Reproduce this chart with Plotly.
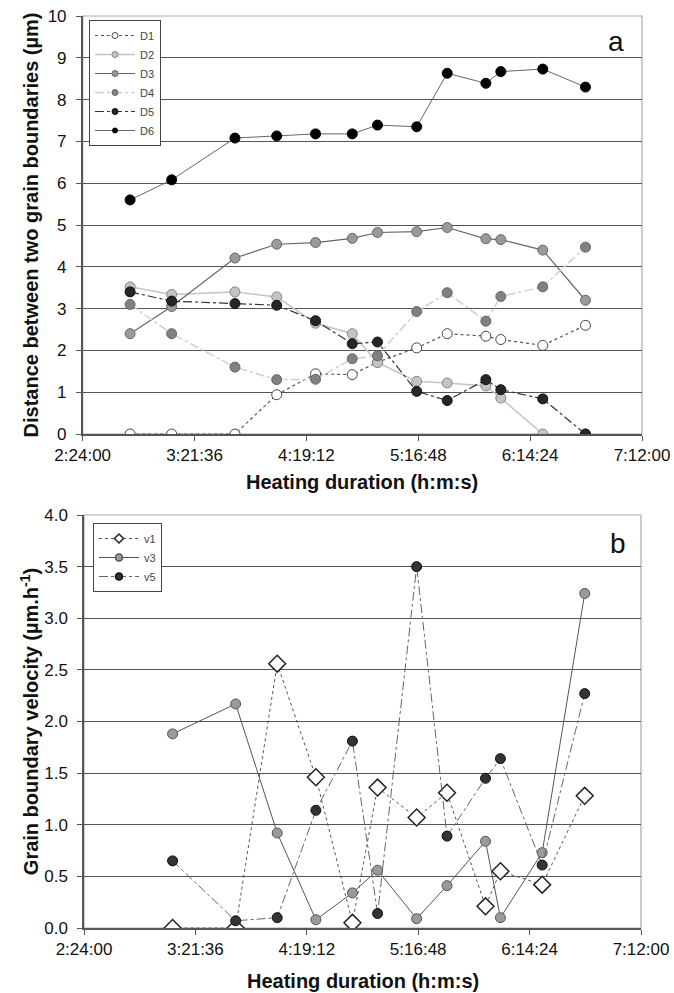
import plotly.graph_objects as go

# ---- data (time in minutes since 0:00:00) ----
time_a = [168.4, 189.8, 222.4, 243.9, 263.9, 282.8, 295.8, 316.0, 331.7, 351.6, 359.3, 380.9, 402.9]
D1 = [0.0, 0.0, 0.0, 0.94, 1.44, 1.42, 1.72, 2.06, 2.40, 2.34, 2.26, 2.12, 2.60]
D2 = [3.52, 3.34, 3.40, 3.28, 2.65, 2.40, 1.71, 1.26, 1.22, 1.15, 0.86, 0.0, 0.0]
D3 = [2.40, 3.05, 4.21, 4.54, 4.58, 4.68, 4.82, 4.84, 4.94, 4.67, 4.65, 4.40, 3.20]
D4 = [3.10, 2.40, 1.60, 1.30, 1.31, 1.80, 1.87, 2.93, 3.38, 2.70, 3.29, 3.52, 4.47]
D5 = [3.40, 3.18, 3.12, 3.08, 2.71, 2.16, 2.20, 1.02, 0.80, 1.30, 1.06, 0.84, 0.0]
D6 = [5.60, 6.08, 7.08, 7.13, 7.18, 7.18, 7.39, 7.35, 8.63, 8.39, 8.67, 8.73, 8.30]

time_b = time_a[1:]
v1 = [0.0, 0.0, 2.56, 1.46, 0.05, 1.36, 1.07, 1.31, 0.21, 0.55, 0.42, 1.28]
v3 = [1.88, 2.17, 0.92, 0.08, 0.34, 0.56, 0.09, 0.41, 0.84, 0.10, 0.73, 3.24]
v5 = [0.65, 0.07, 0.10, 1.14, 1.81, 0.14, 3.50, 0.89, 1.45, 1.64, 0.61, 2.27]

tick_vals = [144, 201.6, 259.2, 316.8, 374.4, 432]
tick_text = ["2:24:00", "3:21:36", "4:19:12", "5:16:48", "6:14:24", "7:12:00"]

FONT = "Arial, Liberation Sans, sans-serif"

fig = go.Figure()

styles_a = [
    ("D1", D1, "dot", "#555555", 1.2, "white", "#444444"),
    ("D2", D2, "solid", "#c4c4c4", 1.5, "#c4c4c4", "#888888"),
    ("D3", D3, "solid", "#666666", 1.2, "#9a9a9a", "#666666"),
    ("D4", D4, "dashdot", "#cfcfcf", 1.5, "#808080", "#666666"),
    ("D5", D5, "dashdot", "#333333", 1.2, "#262626", "#111111"),
    ("D6", D6, "solid", "#666666", 1.0, "#000000", "#000000"),
]
for name, ys, dash, lc, lw, mc, mlc in styles_a:
    fig.add_trace(go.Scatter(
        x=time_a, y=ys, name=name, mode="lines+markers", showlegend=False,
        line=dict(color=lc, width=lw, dash=dash),
        marker=dict(size=10, color=mc, line=dict(color=mlc, width=1)),
        xaxis="x", yaxis="y"))
for name, ys, dash, lc, lw, mc, mlc in styles_a:
    fig.add_trace(go.Scatter(
        x=[None], y=[None], name=name, mode="lines+markers", showlegend=True,
        line=dict(color=lc, width=lw, dash=dash),
        marker=dict(size=6 if name != "D6" else 5, color=mc, line=dict(color=mlc, width=1)),
        xaxis="x", yaxis="y", legend="legend"))

styles_b = [
    ("v1", v1, "dot", "#555555", 1.0, "white", "#222222", "diamond", 13),
    ("v3", v3, "solid", "#555555", 1.0, "#9a9a9a", "#555555", "circle", 10),
    ("v5", v5, "dashdot", "#666666", 1.0, "#333333", "#111111", "circle", 10),
]
for name, ys, dash, lc, lw, mc, mlc, sym, sz in styles_b:
    fig.add_trace(go.Scatter(
        x=time_b, y=ys, name=name, mode="lines+markers", showlegend=False,
        line=dict(color=lc, width=lw, dash=dash),
        marker=dict(size=sz, symbol=sym, color=mc,
                    line=dict(color=mlc, width=1.5 if sym == "diamond" else 1)),
        xaxis="x2", yaxis="y2"))
for name, ys, dash, lc, lw, mc, mlc, sym, sz in styles_b:
    fig.add_trace(go.Scatter(
        x=[None], y=[None], name=name, mode="lines+markers", showlegend=True,
        line=dict(color=lc, width=lw, dash=dash),
        marker=dict(size=7, symbol=sym, color=mc, line=dict(color=mlc, width=1.5)),
        xaxis="x2", yaxis="y2", legend="legend2"))

W, H = 674, 993
AL, AR, AT, AB = 82.7, 642.0, 16.0, 434.0
BL, BR, BT, BB = 84.0, 641.0, 515.0, 928.0
xa = [AL / W, AR / W]
xb = [BL / W, BR / W]
ya = [1 - AB / H, 1 - AT / H]
yb = [1 - BB / H, 1 - BT / H]

xcommon = dict(range=[144, 432], tickvals=tick_vals, ticktext=tick_text,
               showgrid=False, showline=True, linecolor="#555555", linewidth=1.5,
               ticks="outside", ticklen=5, tickcolor="#555555", automargin=False,
               tickfont=dict(family=FONT, size=17, color="#111"),
               zeroline=False)
ycommon = dict(showgrid=True, gridcolor="#555555", gridwidth=1.3,
               showline=True, linecolor="#555555", linewidth=1.5,
               ticks="outside", ticklen=5, tickcolor="#555555", automargin=False,
               ticklabelstandoff=6,
               tickfont=dict(family=FONT, size=17, color="#111"), zeroline=False)

title_font = dict(family=FONT, size=20, color="#111")

fig.update_layout(
    width=W, height=H, margin=dict(l=0, r=0, t=0, b=0),
    paper_bgcolor="white", plot_bgcolor="white",
    xaxis=dict(domain=xa, anchor="y", **xcommon),
    yaxis=dict(domain=ya, anchor="x", range=[0, 10], dtick=1,
               title=dict(text="<b>Distance between two grain boundaries (µm)</b>",
                          font=title_font, standoff=4), **ycommon),
    xaxis2=dict(domain=xb, anchor="y2", **xcommon),
    yaxis2=dict(domain=yb, anchor="x2", range=[0, 4], dtick=0.5, tickformat=".1f",
                title=dict(text="<b>Grain boundary velocity (µm.h<sup>-1</sup>)</b>",
                           font=title_font, standoff=0), **ycommon),
    legend=dict(x=89 / W, y=1 - 20 / H, xanchor="left", yanchor="top",
                bgcolor="white", bordercolor="#444", borderwidth=1,
                font=dict(family=FONT, size=11, color="#444"),
                itemwidth=40, tracegroupgap=0),
    legend2=dict(x=93 / W, y=1 - 523 / H, xanchor="left", yanchor="top",
                 bgcolor="white", bordercolor="#444", borderwidth=1,
                 font=dict(family=FONT, size=11, color="#444"),
                 itemwidth=40, tracegroupgap=0),
    showlegend=True,
    shapes=[
        dict(type="rect", xref="x domain", yref="y domain", x0=0, x1=1, y0=0, y1=1,
             line=dict(color="#aaaaaa", width=1.2), layer="below"),
        dict(type="rect", xref="x2 domain", yref="y2 domain", x0=0, x1=1, y0=0, y1=1,
             line=dict(color="#aaaaaa", width=1.2), layer="below"),
    ],
    annotations=[
        dict(text="a", xref="x domain", yref="y domain", x=(616 - AL) / (AR - AL),
             y=(AB - 41.7) / (AB - AT), showarrow=False,
             font=dict(family=FONT, size=28, color="#111"), xanchor="center", yanchor="middle"),
        dict(text="b", xref="x2 domain", yref="y2 domain", x=(618 - BL) / (BR - BL),
             y=(BB - 543) / (BB - BT), showarrow=False,
             font=dict(family=FONT, size=28, color="#111"), xanchor="center", yanchor="middle"),
        dict(text="<b>Heating duration (h:m:s)</b>", xref="x domain", yref="paper",
             x=0.5, y=1 - 482 / H, showarrow=False, font=title_font,
             xanchor="center", yanchor="middle"),
        dict(text="<b>Heating duration (h:m:s)</b>", xref="x2 domain", yref="paper",
             x=0.5, y=1 - 981 / H, showarrow=False, font=title_font,
             xanchor="center", yanchor="middle"),
    ],
)

fig.write_html("out.html")
